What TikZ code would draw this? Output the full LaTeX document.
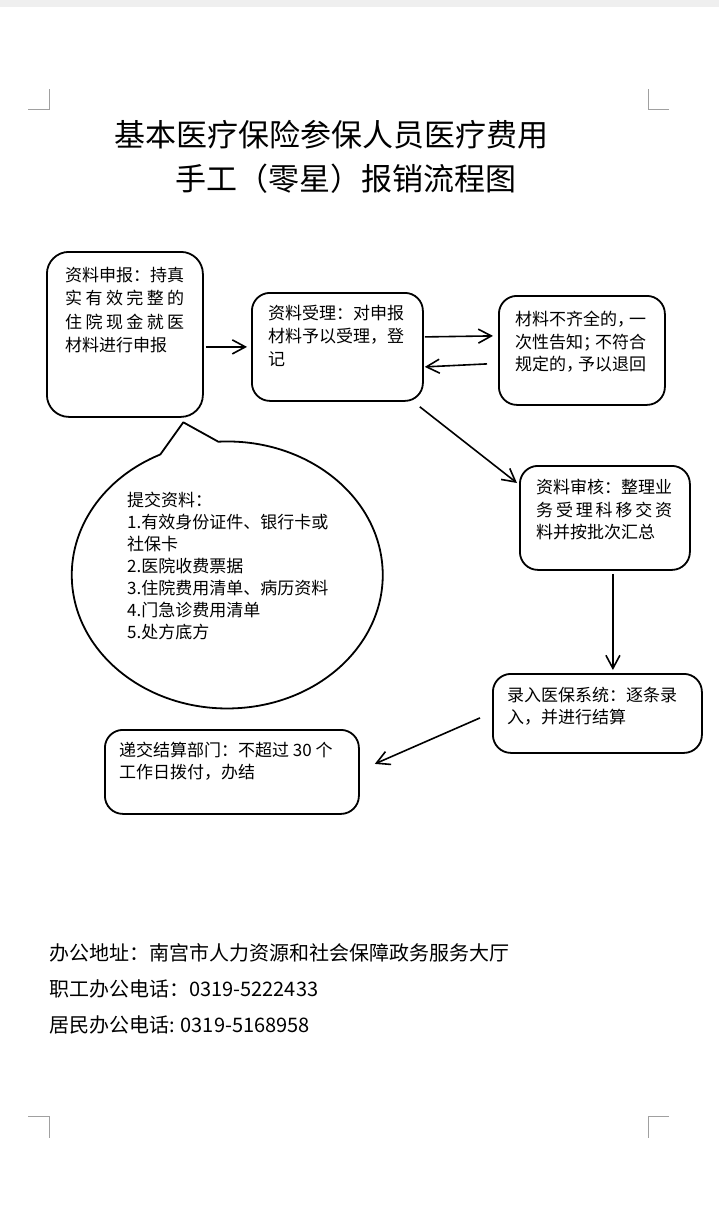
\documentclass[tikz,border=0pt]{standalone}
\usepackage{fontspec}
\newfontfamily\cjk{Noto Sans CJK SC}
\usetikzlibrary{arrows.meta}
\newcommand\hp[1]{\makebox[0.7em][l]{#1}}
\definecolor{topband}{RGB}{239,239,239}
\definecolor{markgray}{RGB}{160,160,160}
\begin{document}
\begin{tikzpicture}[x=1pt,y=-1pt,
  box/.style={draw, line width=1.8pt, rounded corners=18pt, inner sep=0pt, anchor=north west},
  arr/.style={line width=1.6pt, -{Straight Barb[length=13pt,width=14pt]}},
  txt/.style={anchor=north west, inner sep=0pt, align=left, font=\cjk\fontsize{17}{22.5}\selectfont},
  cornermark/.style={draw=markgray, line width=1pt},
  title/.style={anchor=west, inner sep=0pt, font=\cjk\fontsize{31}{36}\selectfont},
  foot/.style={anchor=west, inner sep=0pt, font=\cjk\fontsize{20}{24}\selectfont}]
\useasboundingbox (0,0) rectangle (719,1209);
\fill[white] (0,0) rectangle (719,1209);
\fill[topband] (0,0) rectangle (719,7);

% corner marks
\draw[cornermark] (28,110) -- (49,110) -- (49,89);
\draw[cornermark] (669,110) -- (648,110) -- (648,89);
\draw[cornermark] (28,1116) -- (49,1116) -- (49,1138);
\draw[cornermark] (669,1116) -- (648,1116) -- (648,1138);

% title
\node[title] (title1) at (114,134.5) {基本医疗保险参保人员医疗费用};
\node[title] (title2) at (175,178.5) {手工（零星）报销流程图};

% boxes
\node[box, rounded corners=22pt, minimum width=156pt, minimum height=165pt] (b1) at (46,251) {};
\node[box, minimum width=171pt, minimum height=108pt] (b2) at (251,292) {};
\node[box, minimum width=166pt, minimum height=109pt] (b3) at (498,295) {};
\node[box, minimum width=170pt, minimum height=104pt] (b4) at (519,465) {};
\node[box, minimum width=209pt, minimum height=79pt] (b5) at (492,673) {};
\node[box, minimum width=254pt, minimum height=84pt] (b6) at (104,729) {};

% texts in boxes
\node[txt, font=\cjk\fontsize{17}{23.4}\selectfont] (t1) at (65,267) {资料申报：持真\\\hbox to 7em{实\hfil 有\hfil 效\hfil 完\hfil 整\hfil 的}\\\hbox to 7em{住\hfil 院\hfil 现\hfil 金\hfil 就\hfil 医}\\材料进行申报};
\node[txt, font=\cjk\fontsize{17}{23}\selectfont] (t2) at (268,305) {资料受理：对申报\\材料予以受理，登\\记};
\node[txt] (t3) at (515,311) {材料不齐全的\hp{，}一\\次性告知\hp{；}不符合\\规定的\hp{，}予以退回};
\node[txt] (t4) at (536,479) {资料审核：整理业\\\hbox to 8em{务\hfil 受\hfil 理\hfil 科\hfil 移\hfil 交\hfil 资}\\料并按批次汇总};
\node[txt, font=\cjk\fontsize{17}{22}\selectfont] (t5) at (507,687) {录入医保系统：逐条录\\入，并进行结算};
\node[txt, font=\cjk\fontsize{17}{22}\selectfont] (t6) at (119,742) {递交结算部门：不超过 30 个\\工作日拨付，办结};

% callout bubble
\coordinate (tip) at (183.3,422.3);
\draw[line width=1.8pt, line join=round] (tip) -- (218.3,441.7) arc[start angle=266.7, end angle=604.5, x radius=155.5, y radius=133.5] -- cycle;
\node[txt, font=\cjk\fontsize{17}{22}\selectfont] (tc) at (127,492) {提交资料：\\1.有效身份证件、银行卡或\\社保卡\\2.医院收费票据\\3.住院费用清单、病历资料\\4.门急诊费用清单\\5.处方底方};

% connectors
\draw[arr] ([shift={(2,12.5)}]b1.east) -- ([shift={(-4,0)}]b2.west);
\draw[arr] ([shift={(1,-10)}]b2.east) -- ([shift={(-5,-14.5)}]b3.west);
\draw[arr] ([shift={(-11,13.5)}]b3.west) -- ([shift={(1,20)}]b2.east);
\draw[arr] ([shift={(-4,5)}]b2.south east) -- ([shift={(-2,18)}]b4.north west);
\draw[arr] ([shift={(8,3)}]b4.south) -- ([shift={(15.5,-3)}]b5.north);
\draw[arr] ([shift={(-12,4.5)}]b5.west) -- ([shift={(15,-8)}]b6.east);

% footer
\node[foot] (f1) at (49,952.5) {办公地址：南宫市人力资源和社会保障政务服务大厅};
\node[foot] (f2) at (49,989) {职工办公电话：0319-5222433};
\node[foot] (f3) at (49,1025) {居民办公电话: 0319-5168958};
\end{tikzpicture}
\end{document}
